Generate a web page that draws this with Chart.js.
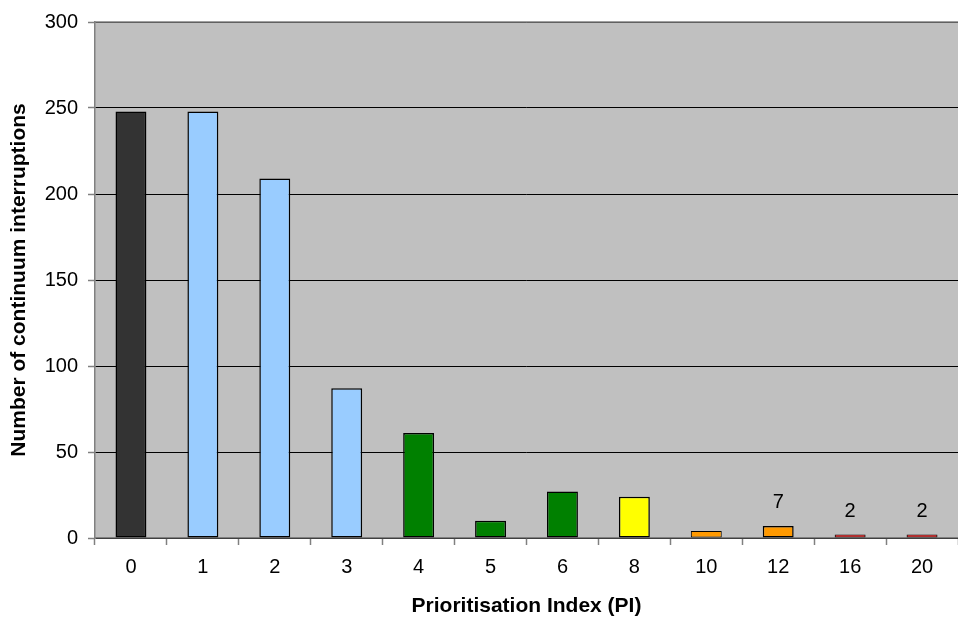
<!DOCTYPE html>
<html>
<head>
<meta charset="utf-8">
<script src="https://cdn.jsdelivr.net/npm/chart.js@4.4.1/dist/chart.umd.min.js"></script>
<style>
  html, body { margin: 0; padding: 0; background: #fff; }
  #wrap { width: 958px; height: 619px; position: relative; }
</style>
</head>
<body>
<div id="wrap"><canvas id="c"></canvas></div>
<script>
const categories = ['0', '1', '2', '3', '4', '5', '6', '8', '10', '12', '16', '20'];
const interruptions = [248, 248, 209, 87, 61, 10, 27, 24, 4, 7, 2, 2];
const barColors = ['#333333', '#99CCFF', '#99CCFF', '#99CCFF', '#008000', '#008000', '#008000',
                   '#FFFF00', '#FF9900', '#FF9900', '#FF0000', '#FF0000'];
const annotatedCategories = ['12', '16', '20'];
const yTicks = [0, 50, 100, 150, 200, 250, 300];
const xTitle = 'Prioritisation Index (PI)';
const yTitle = 'Number of continuum interruptions';

const FONT = 'Arial, "Liberation Sans", sans-serif';

const plotBg = {
  id: 'plotBg',
  beforeDraw(chart) {
    const { ctx, chartArea: a } = chart;
    ctx.save();
    ctx.fillStyle = '#C0C0C0';
    ctx.fillRect(a.left, a.top, a.right - a.left, a.bottom - a.top);
    ctx.restore();
  },
  afterDatasetsDraw(chart) {
    const { ctx, chartArea: a } = chart;
    ctx.save();
    ctx.strokeStyle = '#808080';
    ctx.lineWidth = 1.5;
    ctx.beginPath();
    ctx.moveTo(a.left, a.top);
    ctx.lineTo(a.right, a.top);
    ctx.stroke();
    const meta = chart.getDatasetMeta(0);
    ctx.fillStyle = '#000';
    ctx.font = '20px ' + FONT;
    ctx.textAlign = 'center';
    ctx.textBaseline = 'middle';
    meta.data.forEach((bar, i) => {
      if (annotatedCategories.includes(categories[i])) {
        ctx.fillText(String(interruptions[i]), bar.x, bar.y - 23);
      }
    });
    ctx.restore();
  }
};

new Chart(document.getElementById('c'), {
  type: 'bar',
  data: {
    labels: categories,
    datasets: [{
      data: interruptions,
      backgroundColor: barColors,
      borderColor: '#000000',
      borderWidth: (c) => (c.raw < 5 ? 1 : 1.5),
      borderSkipped: false,
      categoryPercentage: 1,
      barPercentage: 0.43
    }]
  },
  options: {
    responsive: true,
    maintainAspectRatio: false,
    animation: false,
    layout: { padding: { top: 20, right: 0, bottom: 0, left: 0 } },
    plugins: { legend: { display: false }, tooltip: { enabled: false } },
    scales: {
      x: {
        grid: { display: true, drawOnChartArea: false, offset: true, tickLength: 7, tickColor: '#808080', tickWidth: 1.5 },
        border: { color: '#808080', width: 1.5 },
        ticks: { color: '#000', font: { family: FONT, size: 20 }, padding: 10, maxRotation: 0 },
        title: { display: true, text: xTitle, color: '#000', font: { family: FONT, size: 21, weight: 'bold' }, padding: { top: 0, bottom: 0 } },
        afterFit(s) { s.height = 81; }
      },
      y: {
        min: 0, max: 300,
        afterBuildTicks(s) { s.ticks = yTicks.map(v => ({ value: v })); },
        grid: { color: '#000000', lineWidth: 1, tickLength: 7, tickColor: '#808080', tickWidth: 1.5 },
        border: { color: '#808080', width: 1.5 },
        ticks: { color: '#000', font: { family: FONT, size: 20 }, padding: 10 },
        title: { display: true, text: yTitle, color: '#000', font: { family: FONT, size: 21, weight: 'bold' }, padding: { top: 7, bottom: 0 } },
        afterFit(s) { s.width = 95; }
      }
    }
  },
  plugins: [plotBg]
});
</script>
</body>
</html>
